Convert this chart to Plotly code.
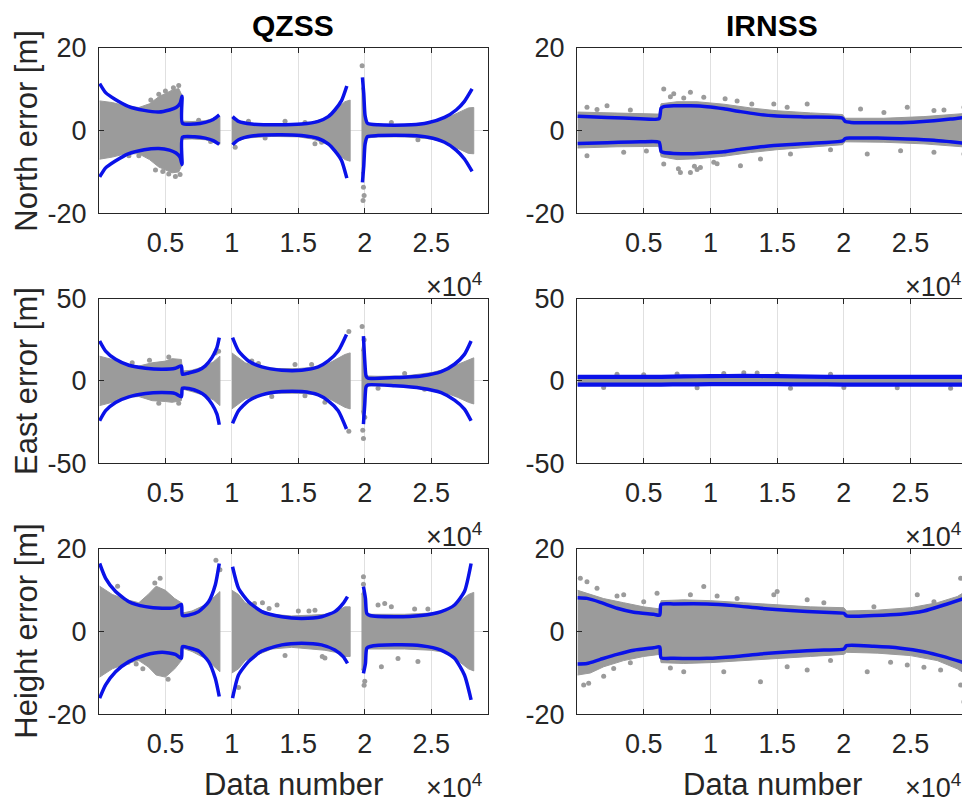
import plotly.graph_objects as go

# ---------------- text / ticks ----------------
COL_TITLES = ["QZSS", "IRNSS"]
ROW_LABELS = ["North error [m]", "East error [m]", "Height error [m]"]
X_LABEL = "Data number"
X_TICKS = [5000, 10000, 15000, 20000, 25000]
X_TICK_TEXT = ["0.5", "1", "1.5", "2", "2.5"]
X_RANGE = [1, 29250]
Y_LIMITS = [20, 50, 20]

# ---------------- QZSS North ----------------
QN_BLUE_X = [50, 500, 1200, 2200, 3400, 4500, 5300, 5800, 6100, 6250, 6280, 7200, 8000, 8600, 9050, None,
             10050, 10500, 11500, 13500, 15250, 16500, 17250, 17750, 18250, 18650, None,
             19825, 19925, 20025, 20200, 21000, 23500, 24750, 26000, 26875, 27500, 28075]
QN_BLUE_UP = [11.4, 9.2, 7.6, 5.9, 4.9, 4.5, 5.0, 5.6, 6.6, 8.3, 1.8, 1.6, 2.0, 2.7, 3.8, None,
              3.4, 2.25, 1.6, 1.4, 1.6, 2.25, 3.4, 5.0, 7.25, 10.8, None,
              12.9, 8.9, 3.6, 1.8, 1.4, 1.4, 1.9, 3.2, 5.0, 7.1, 10.1]
QN_BLUE_LO = [-11.2, -9.0, -7.4, -5.6, -4.6, -4.3, -4.7, -5.4, -6.4, -8.2, -1.6, -1.5, -1.8, -2.4, -3.3, None,
              -3.4, -2.2, -1.3, -1.0, -1.2, -1.9, -3.2, -4.9, -7.2, -11.5, None,
              -12.5, -8.5, -3.2, -1.45, -1.2, -1.2, -1.6, -2.8, -4.7, -6.85, -9.85]
QN_GRAY_X = [50, 1000, 2000, 3000, 3800, 4500, 5000, 5500, 6000, 6250, 6280, 7000, 8000, 8600, 9100, None,
             10000, 10500, 11000, 13000, 15000, 16000, 17000, 17500, 18000, 18500, 18900, None,
             19750, 19850, 19950, 20100, 21000, 23000, 25000, 26000, 27000, 27800, 28200]
QN_GRAY_UP = [7.2, 6.8, 6.0, 5.6, 6.5, 8.2, 9.0, 9.8, 10.2, 8.5, 2.3, 2.2, 2.4, 3.0, 3.4, None,
              3.3, 2.4, 1.8, 1.5, 1.6, 2.0, 3.0, 4.0, 5.6, 7.0, 7.4, None,
              10.0, 11.0, 6.0, 1.8, 1.5, 1.5, 2.0, 2.8, 4.3, 5.5, 5.6]
QN_GRAY_LO = [-6.9, -6.4, -5.6, -5.6, -7.0, -8.8, -9.5, -10.2, -10.0, -8.3, -2.1, -2.0, -2.2, -2.8, -3.3, None,
              -3.4, -2.5, -1.8, -1.4, -1.5, -2.0, -3.0, -4.0, -5.6, -7.0, -7.4, None,
              -10.0, -12.0, -6.0, -1.8, -1.5, -1.5, -2.0, -2.8, -4.3, -5.5, -5.6]
QN_OUT_X = [19800, 19900, 19950, 19870, 6000, 5750, 4250, 2250, 3000, 10250, 16250, 11250, 14000, 5000, 4500,
            5250, 16750, 17250, 3900, 4800, 5600, 6100, 7500, 8400, 12500, 15500, 22000, 24000]
QN_OUT_Y = [15.7, -13.7, -15.7, -16.9, 10.9, -11.1, -9.5, -6.05, -6.05, -4.0, -3.2, 2.25, 2.25, 9.6, 8.8,
            -10.5, -2.8, 2.9, 7.4, -9.9, 10.4, -10.6, 2.5, -2.6, -1.8, 2.0, 2.0, -2.2]

# ---------------- IRNSS North ----------------
IN_BLUE_X = [50, 2250, 4750, 6150, 6300, 6500, 7250, 8500, 9750, 11000, 12250, 13500, 14750, 17250, 19900,
             20100, 20500, 22500, 24750, 26750, 28000, 29250]
IN_BLUE_UP = [3.5, 3.2, 2.9, 2.9, 5.4, 5.8, 6.0, 6.0, 5.8, 5.3, 4.6, 4.0, 3.6, 3.3, 3.0, 2.2, 2.0, 1.9, 2.0,
              2.4, 2.8, 3.3]
IN_BLUE_LO = [-3.1, -2.9, -2.7, -2.8, -5.0, -5.3, -5.5, -5.6, -5.4, -5.1, -4.5, -4.0, -3.6, -3.1, -2.5, -1.9,
              -1.8, -1.8, -2.0, -2.3, -2.7, -3.1]
IN_GRAY_X = [50, 3000, 6150, 6300, 7500, 9000, 11000, 13000, 15000, 17500, 19900, 20100, 23000, 26000, 29250]
IN_GRAY_UP = [4.5, 4.2, 4.0, 6.5, 7.0, 7.0, 6.4, 5.5, 4.8, 4.3, 3.9, 3.0, 3.0, 3.4, 4.2]
IN_GRAY_LO = [-4.2, -3.9, -3.8, -6.3, -7.0, -6.8, -6.2, -5.3, -4.6, -4.0, -3.4, -2.7, -2.8, -3.2, -4.0]
IN_OUT_X = [6500, 7250, 8500, 9500, 11100, 13100, 14750, 15750, 17250, 21250, 24750, 26750, 29000, 2250, 750,
            6500, 7750, 8500, 9250, 10250, 12250, 13750, 16000, 21750, 24250, 26750, 29000, 750, 3500, 4000,
            12000, 19000, 7000, 8000, 9000, 10500, 7600, 8800, 1500, 5200, 27500, 23000]
IN_OUT_Y = [10.1, 8.9, 9.3, 8.1, 7.7, 6.45, 6.45, 5.65, 6.45, 5.25, 5.65, 4.85, 5.65, 6.05, 5.65,
            -8.05, -10.1, -10.1, -8.9, -7.65, -8.5, -6.85, -5.65, -5.65, -4.85, -5.25, -5.65, -6.05, -5.25, 5.0,
            7.2, -4.6, 8.2, 7.9, -9.4, -8.0, -9.2, -8.6, 5.1, -4.9, 5.0, 4.4]

# ---------------- QZSS East ----------------
QE_BLUE_X = [50, 500, 1250, 2250, 3500, 4750, 5750, 6200, 6280, 6750, 7500, 8000, 8500, 8875, 9050, None,
             10050, 10500, 11250, 12250, 13750, 15250, 16500, 17250, 18000, 18625, None,
             19900, 20000, 20100, 20250, 22250, 24250, 25750, 26750, 27500, 28000]
QE_BLUE_UP = [24.2, 18.1, 13.1, 9.5, 7.7, 7.1, 7.7, 9.1, 4.0, 4.8, 6.5, 9.1, 14.1, 20.2, 26.2, None,
              26.2, 18.1, 12.1, 8.5, 6.5, 6.5, 8.5, 12.1, 18.1, 28.2, None,
              27.2, 12.1, 3.0, 1.6, 2.0, 3.0, 5.6, 10.1, 16.1, 24.2]
QE_BLUE_LO = [-24.2, -18.1, -13.1, -9.7, -7.7, -7.1, -7.7, -9.6, -4.4, -4.6, -6.5, -9.1, -14.1, -20.2, -26.6, None,
              -25.8, -18.1, -12.1, -8.5, -6.5, -6.5, -8.5, -12.1, -18.1, -29.2, None,
              -26.2, -14.1, -3.6, -2.4, -3.0, -4.4, -7.1, -11.7, -17.1, -24.2]
QE_GRAY_X = [50, 1000, 2000, 3000, 4000, 5000, 5500, 6200, 6280, 7000, 8000, 8600, 9100, None,
             10000, 10500, 11000, 12000, 13500, 15000, 16500, 17250, 18000, 18500, 18900, None,
             19750, 19850, 19950, 20100, 21000, 23000, 25000, 26000, 27000, 27800, 28200]
QE_GRAY_UP = [15.0, 13.0, 10.0, 9.0, 11.0, 12.0, 13.5, 13.0, 6.0, 6.5, 9.0, 11.5, 15.0, None,
              17.0, 14.0, 11.0, 8.5, 7.5, 7.5, 8.5, 10.5, 14.0, 16.0, 17.0, None,
              18.0, 22.0, 14.0, 3.0, 2.8, 3.0, 5.0, 7.0, 10.0, 13.0, 14.0]
QE_GRAY_LO = [-15.0, -13.0, -10.0, -9.5, -12.0, -12.5, -13.0, -12.0, -5.0, -6.5, -9.0, -11.5, -15.0, None,
              -17.0, -14.0, -11.0, -8.5, -7.5, -7.5, -8.5, -10.5, -14.0, -16.0, -17.0, None,
              -18.0, -22.0, -14.0, -3.0, -3.0, -3.2, -5.0, -7.0, -10.0, -13.0, -14.0]
QE_OUT_X = [19800, 19850, 19900, 19950, 20000, 8750, 18800, 18800, 12000, 14750, 16000, 3800, 5250, 4500, 17000,
            9000, 23000, 21000, 13000, 15500, 2500, 6000, 11500, 24500]
QE_OUT_Y = [33.0, -30.0, -35.0, 25.0, -22.0, 17.0, 30.0, -30.5, 10.5, 10.0, 10.0, 12.5, 14.5, -13.5, -13.0,
            18.0, 4.5, -4.5, -9.5, -9.0, 11.0, -13.5, 12.0, -5.0]

# ---------------- IRNSS East ----------------
IE_BLUE_X = [50, 5000, 6300, 8000, 10000, 12500, 15000, 17500, 20000, 22500, 25000, 29250]
IE_BLUE_UP = [2.4, 2.4, 2.5, 2.7, 2.9, 3.0, 2.9, 2.6, 2.4, 2.4, 2.4, 2.5]
IE_BLUE_LO = [-2.2, -2.2, -2.2, -2.1, -2.0, -1.9, -2.0, -2.1, -2.2, -2.2, -2.2, -2.2]
IE_GRAY_X = [50, 10000, 15000, 29250]
IE_GRAY_UP = [2.8, 3.2, 3.2, 2.8]
IE_GRAY_LO = [-2.6, -2.6, -2.6, -2.6]
IE_OUT_X = [3000, 7500, 11000, 12500, 13500, 15000, 2000, 9000, 16000, 20000, 24000, 28000, 5000, 19000]
IE_OUT_Y = [4.0, 4.2, 4.5, 5.0, 4.8, 4.0, -4.0, -4.2, -4.5, -4.0, -4.2, -4.5, 3.8, 4.0]

# ---------------- QZSS Height ----------------
QH_BLUE_X = [50, 500, 1250, 2250, 3500, 4750, 5750, 6200, 6280, 6750, 7500, 8250, 8750, 9050, None,
             10050, 10500, 11250, 12250, 13750, 15250, 16750, 17750, 18375, 18700, None,
             19900, 20050, 20150, 20400, 22250, 24250, 25750, 26750, 27500, 28000]
QH_BLUE_UP = [16.5, 12.9, 9.7, 7.25, 6.05, 5.65, 5.8, 6.6, 3.9, 4.0, 4.85, 7.25, 11.3, 16.5, None,
              15.7, 10.5, 7.25, 4.85, 3.6, 3.2, 3.6, 4.85, 6.85, 8.5, None,
              10.9, 8.05, 4.45, 3.9, 3.6, 3.9, 4.85, 6.45, 9.7, 16.5]
QH_BLUE_LO = [-16.1, -12.9, -9.7, -7.25, -5.65, -5.0, -5.5, -6.45, -3.6, -3.9, -4.7, -7.25, -11.3, -15.7, None,
              -16.1, -10.5, -7.25, -4.7, -3.2, -2.8, -3.2, -4.45, -6.05, -7.7, None,
              -10.1, -7.7, -4.0, -3.6, -3.2, -3.4, -4.45, -6.45, -10.5, -16.5]
QH_GRAY_X = [50, 1000, 2000, 3000, 3700, 4300, 5000, 5700, 6200, 6280, 7000, 8000, 8700, 9100, None,
             10000, 10500, 11000, 12000, 13000, 14500, 16000, 17000, 17800, 18500, 18900, None,
             19750, 19900, 20050, 20200, 21000, 23000, 25000, 26000, 27000, 27800, 28200]
QH_GRAY_UP = [11.0, 9.0, 7.8, 7.0, 9.0, 11.0, 10.0, 8.0, 7.0, 4.5, 5.0, 6.5, 8.5, 9.7, None,
              10.0, 9.0, 7.0, 5.5, 4.2, 3.8, 4.0, 4.2, 4.8, 6.0, 6.0, None,
              9.0, 10.0, 6.0, 4.2, 4.2, 4.2, 4.5, 5.0, 7.0, 9.0, 9.5]
QH_GRAY_LO = [-11.0, -9.0, -7.8, -7.0, -8.5, -10.5, -11.0, -9.0, -7.0, -4.0, -4.8, -6.5, -8.5, -9.7, None,
              -10.0, -9.0, -7.0, -5.5, -4.2, -3.8, -4.2, -4.5, -5.0, -6.0, -6.0, None,
              -9.0, -10.0, -6.0, -4.2, -4.2, -4.2, -4.5, -5.0, -7.0, -9.0, -9.5]
QH_OUT_X = [4600, 2200, 2800, 19900, 19950, 20000, 19900, 8800, 12300, 11700, 13400, 15000, 16250, 17000,
            21000, 21500, 22000, 23750, 24750, 21250, 22500, 24000, 10500, 9100, 4200, 5200, 3300, 1400,
            14000, 16800, 12800, 15800]
QH_OUT_Y = [12.9, -7.4, -7.8, 13.3, -13.0, -12.0, 11.5, 17.3, 7.0, 6.8, 6.45, 5.0, 5.2, -6.4,
            6.45, 6.8, 6.0, 5.5, 5.5, -8.5, -6.5, -7.2, -13.5, 15.0, 11.8, -11.5, -9.0, 11.0,
            -5.8, -6.0, 5.6, 5.0]

# ---------------- IRNSS Height ----------------
IH_BLUE_X = [50, 750, 1750, 3000, 4250, 5750, 6200, 6300, 7250, 9750, 11750, 13750, 16000, 18500, 20000, 20200,
             22250, 24250, 26000, 27500, 29250]
IH_BLUE_UP = [8.2, 8.05, 7.1, 5.65, 4.7, 4.2, 4.0, 6.6, 6.7, 6.7, 6.3, 5.65, 5.1, 4.7, 4.45, 3.8, 3.9, 4.2,
              5.0, 6.45, 8.3]
IH_BLUE_LO = [-7.8, -7.7, -6.7, -5.5, -4.5, -3.9, -3.7, -6.3, -6.45, -6.45, -6.05, -5.4, -4.85, -4.45, -4.2,
              -3.4, -3.55, -4.0, -4.85, -6.05, -7.8]
IH_GRAY_X = [50, 1000, 2000, 3500, 5000, 6200, 6300, 8000, 10000, 12500, 15000, 17500, 20000, 20200, 22500,
             25000, 27000, 28500, 29250]
IH_GRAY_UP = [10.0, 9.0, 8.0, 7.0, 6.0, 5.5, 7.5, 7.7, 7.5, 7.0, 6.5, 6.0, 5.8, 5.0, 5.2, 5.8, 7.0, 8.5, 10.0]
IH_GRAY_LO = [-10.5, -10.0, -8.5, -7.0, -6.0, -5.5, -7.5, -7.7, -7.5, -7.0, -6.5, -6.0, -5.5, -5.0, -5.2,
              -5.8, -7.0, -9.0, -10.5]
IH_OUT_X = [250, 750, 500, 875, 3500, 5000, 6000, 8500, 9500, 14750, 15000, 13750, 17250, 15750, 11000, 8000,
            2750, 28750, 29000, 28750, 25500, 26750, 22250, 17250, 21750, 24750, 27250, 1500, 2000, 4000, 12000,
            19000, 7000, 10500, 18500, 23500, 26000, 3000]
IH_OUT_Y = [12.9, 12.1, -12.9, -12.5, 8.9, 7.25, 9.3, 8.9, 10.9, 8.9, 9.7, -12.1, -9.3, -8.5, -9.7, -9.7,
            -8.9, 12.9, -17.0, -12.9, 8.9, 7.25, 6.05, 7.7, -9.7, -8.1, -9.3, 10.5, -10.8, -7.5, 8.0, -7.0,
            -8.8, 8.6, 7.0, -7.4, -8.6, 8.6]

PANELS = [
    (QN_BLUE_X, QN_BLUE_UP, QN_BLUE_LO, QN_GRAY_X, QN_GRAY_UP, QN_GRAY_LO, QN_OUT_X, QN_OUT_Y),
    (IN_BLUE_X, IN_BLUE_UP, IN_BLUE_LO, IN_GRAY_X, IN_GRAY_UP, IN_GRAY_LO, IN_OUT_X, IN_OUT_Y),
    (QE_BLUE_X, QE_BLUE_UP, QE_BLUE_LO, QE_GRAY_X, QE_GRAY_UP, QE_GRAY_LO, QE_OUT_X, QE_OUT_Y),
    (IE_BLUE_X, IE_BLUE_UP, IE_BLUE_LO, IE_GRAY_X, IE_GRAY_UP, IE_GRAY_LO, IE_OUT_X, IE_OUT_Y),
    (QH_BLUE_X, QH_BLUE_UP, QH_BLUE_LO, QH_GRAY_X, QH_GRAY_UP, QH_GRAY_LO, QH_OUT_X, QH_OUT_Y),
    (IH_BLUE_X, IH_BLUE_UP, IH_BLUE_LO, IH_GRAY_X, IH_GRAY_UP, IH_GRAY_LO, IH_OUT_X, IH_OUT_Y),
]

# ---------------- style / layout ----------------
PAGE_PAD = 8                      # browser default body margin
W, H = 970 - PAGE_PAD, 803 - PAGE_PAD
GRAY = "rgb(155,155,155)"
BLUE = "rgb(10,18,232)"
AXC = "#262626"
GRIDC = "#e0e0e0"
FONT = "Liberation Sans, Arial, Helvetica, sans-serif"
FS_TICK = 27
FS_LABEL = 31
COL_PX = [(99, 487.7), (577, 967.3)]
ROW_PX = [(48, 213.3), (298.5, 463.3), (549, 714.3)]


def px_x(p):
    return (p - PAGE_PAD) / W


def px_y(p):
    return 1 - (p - PAGE_PAD) / H


def split(xs, *ys):
    segs, cur = [], [[] for _ in range(len(ys) + 1)]
    for i, x in enumerate(xs):
        if x is None:
            segs.append(cur)
            cur = [[] for _ in range(len(ys) + 1)]
            continue
        cur[0].append(x)
        for k, y in enumerate(ys):
            cur[k + 1].append(y[i])
    segs.append(cur)
    return segs


fig = go.Figure()
layout = dict(width=W, height=H, margin=dict(l=0, r=0, t=0, b=0, pad=0, autoexpand=False), showlegend=False,
              plot_bgcolor="white", paper_bgcolor="white", font=dict(family=FONT, color=AXC, size=FS_TICK))
annotations = []

for idx, (bx, bu, bl, gx, gu, gl, ox, oy) in enumerate(PANELS):
    r, c = divmod(idx, 2)
    n = idx + 1
    xa, ya = ("x" if n == 1 else f"x{n}"), ("y" if n == 1 else f"y{n}")
    for sx, su, sl in split(gx, gu, gl):
        fig.add_trace(go.Scatter(x=sx + sx[::-1], y=su + sl[::-1], fill="toself", fillcolor=GRAY,
                                 mode="lines", line=dict(color=GRAY, width=1), hoverinfo="skip",
                                 xaxis=xa, yaxis=ya))
    fig.add_trace(go.Scatter(x=ox, y=oy, mode="markers", marker=dict(color=GRAY, size=5),
                             hoverinfo="skip", xaxis=xa, yaxis=ya))
    lw = 4.2 if idx == 3 else 3.5
    for ys in (bu, bl):
        fig.add_trace(go.Scatter(x=bx, y=ys, mode="lines", connectgaps=False,
                                 line=dict(color=BLUE, width=lw, shape="spline", smoothing=0.6),
                                 hoverinfo="skip", xaxis=xa, yaxis=ya))

    x0, x1 = COL_PX[c]
    y0, y1 = ROW_PX[r]
    lim = Y_LIMITS[r]
    common = dict(showline=True, linecolor=AXC, linewidth=1, mirror="ticks", ticks="inside", ticklen=5,
                  tickcolor=AXC, tickwidth=1, showgrid=True, gridcolor=GRIDC, gridwidth=1, zeroline=False,
                  automargin=False, tickfont=dict(family=FONT, size=FS_TICK, color=AXC))
    layout["xaxis" if n == 1 else f"xaxis{n}"] = dict(
        common, domain=[px_x(x0), px_x(x1)], range=X_RANGE, tickvals=X_TICKS, ticktext=X_TICK_TEXT,
        anchor=ya, ticklabelstandoff=5)
    layout["yaxis" if n == 1 else f"yaxis{n}"] = dict(
        common, domain=[px_y(y1), px_y(y0)], range=[-lim, lim], tickvals=[-lim, 0, lim],
        ticktext=[str(-lim), "0", str(lim)], anchor=xa, ticklabelstandoff=6)
    annotations.append(dict(text="\u00d710<sup>4</sup>", x=px_x(x1 - 4), y=px_y(y1 + 72), xref="paper",
                            yref="paper", xanchor="right", yanchor="middle", showarrow=False,
                            font=dict(family=FONT, size=FS_TICK, color=AXC)))

for c, t in enumerate(COL_TITLES):
    x0, x1 = COL_PX[c]
    annotations.append(dict(text=f"<b>{t}</b>", x=px_x((x0 + x1) / 2), y=px_y(26), xref="paper", yref="paper",
                            xanchor="center", yanchor="middle", showarrow=False,
                            font=dict(family=FONT, size=FS_LABEL - 1, color="black")))
    annotations.append(dict(text=X_LABEL, x=px_x((x0 + x1) / 2), y=px_y(784), xref="paper", yref="paper",
                            xanchor="center", yanchor="middle", showarrow=False,
                            font=dict(family=FONT, size=FS_LABEL, color=AXC)))
for r, t in enumerate(ROW_LABELS):
    y0, y1 = ROW_PX[r]
    annotations.append(dict(text=t, x=px_x(27), y=px_y((y0 + y1) / 2), xref="paper", yref="paper",
                            xanchor="center", yanchor="middle", textangle=-90, showarrow=False,
                            font=dict(family=FONT, size=FS_LABEL, color=AXC)))

layout["annotations"] = annotations
fig.update_layout(**layout)
fig.write_html("out.html")
